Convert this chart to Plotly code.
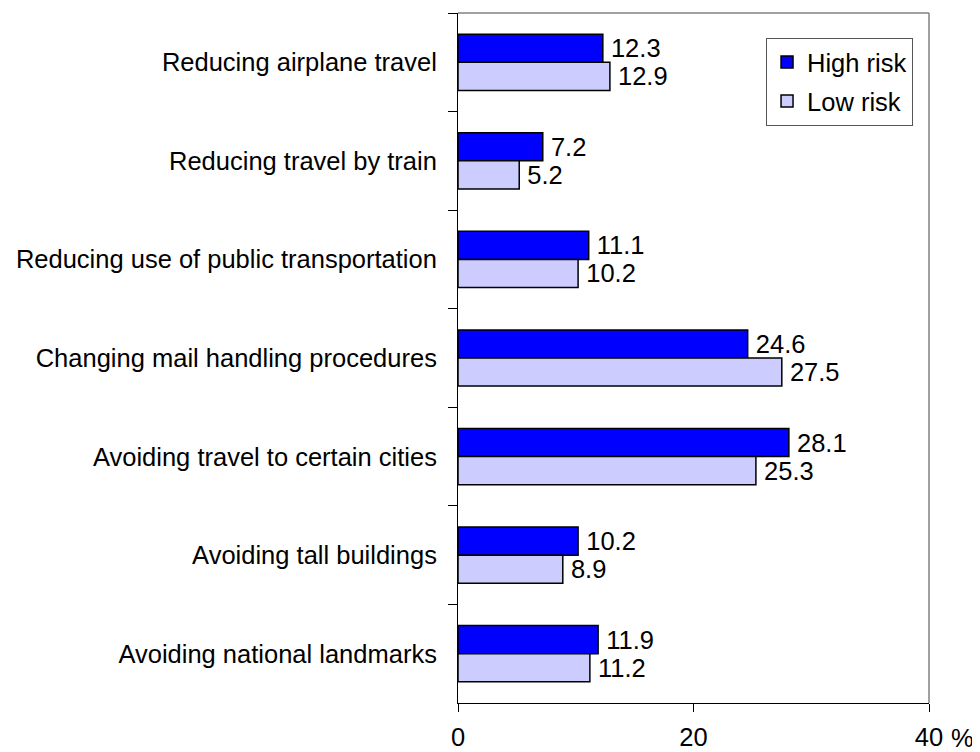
import plotly.graph_objects as go

categories = [
    "Reducing airplane travel",
    "Reducing travel by train",
    "Reducing use of public transportation",
    "Changing mail handling procedures",
    "Avoiding travel to certain cities",
    "Avoiding tall buildings",
    "Avoiding national landmarks",
]
high_risk = [12.3, 7.2, 11.1, 24.6, 28.1, 10.2, 11.9]
low_risk = [12.9, 5.2, 10.2, 27.5, 25.3, 8.9, 11.2]
x_ticks = [0, 20, 40]

FONT = "Liberation Sans, Arial, sans-serif"
FS = 25.5

fig = go.Figure()
fig.add_trace(go.Bar(
    y=categories, x=high_risk, orientation="h", name="High risk", legendgroup="h",
    marker=dict(color="#0000FF", line=dict(color="black", width=1.5)),
    texttemplate="\u2009%{x:.1f}", textposition="outside",
    textfont=dict(size=FS, color="black", family=FONT), cliponaxis=False,
))
fig.add_trace(go.Bar(
    y=categories, x=low_risk, orientation="h", name="Low risk", legendgroup="l",
    marker=dict(color="#CCCCFF", line=dict(color="black", width=1.5)),
    texttemplate="\u2009%{x:.1f}", textposition="outside",
    textfont=dict(size=FS, color="black", family=FONT), cliponaxis=False,
))

fig.update_layout(
    width=980, height=752,
    margin=dict(l=450, r=59, t=5, b=57, autoexpand=False),
    plot_bgcolor="white", paper_bgcolor="white",
    font=dict(family=FONT, size=FS, color="black"),
    barmode="group", bargap=0.43, bargroupgap=0,
    legend=dict(
        x=0.654, y=0.964, xanchor="left", yanchor="top",
        bordercolor="#555555", borderwidth=1, bgcolor="white",
        font=dict(size=FS, family=FONT), tracegroupgap=3,
    ),
    xaxis=dict(
        range=[0, 40], tickvals=x_ticks, ticktext=[str(t) for t in x_ticks],
        showgrid=False, zeroline=False, showline=True, linecolor="black", linewidth=1,
        ticks="outside", ticklen=8, tickcolor="black", ticklabelstandoff=3,
        tickfont=dict(size=FS, family=FONT), automargin=False,
    ),
    yaxis=dict(
        autorange="reversed", type="category", tickson="boundaries",
        showgrid=False, zeroline=False, showline=True, linecolor="black", linewidth=1,
        ticks="outside", ticklen=9, tickcolor="black", ticklabelstandoff=15,
        tickfont=dict(size=FS, family=FONT), automargin=False,
    ),
    shapes=[
        dict(type="line", xref="paper", yref="paper", x0=0, x1=1, y0=1, y1=1,
             line=dict(color="#808080", width=1.5), layer="below"),
        dict(type="line", xref="paper", yref="paper", x0=1, x1=1, y0=0, y1=1,
             line=dict(color="#808080", width=1.5), layer="below"),
    ],
    annotations=[
        dict(text="%", xref="paper", yref="paper", x=1.0, y=0, xanchor="left",
             yanchor="middle", xshift=20, yshift=-35, showarrow=False,
             font=dict(size=FS, family=FONT)),
    ],
)

fig.write_html("out.html")
